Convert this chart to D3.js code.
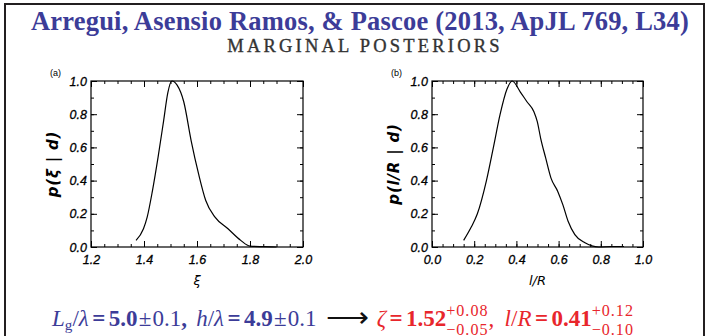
<!DOCTYPE html>
<html>
<head>
<meta charset="utf-8">
<script src="https://cdn.jsdelivr.net/npm/d3@7"></script>
<style>
  body { margin: 0; background: #fff; }
  svg { display: block; }
</style>
</head>
<body>
<div id="chart"></div>
<script>
// marginal posterior for xi (panel a)
var xiGrid = [1.37, 1.398, 1.412, 1.432, 1.453, 1.474, 1.49, 1.505, 1.525, 1.55, 1.578, 1.606, 1.633, 1.668, 1.717, 1.765, 1.80, 1.85, 1.90];
var xiPost = [0.04, 0.11, 0.18, 0.34, 0.54, 0.76, 0.93, 1.0, 0.975, 0.875, 0.64, 0.44, 0.28, 0.18, 0.11, 0.04, 0.005, 0.002, 0];

// marginal posterior for l/R (panel b)
var lrGrid = [0.15, 0.186, 0.215, 0.258, 0.291, 0.323, 0.355, 0.38, 0.418, 0.45, 0.483, 0.499, 0.515, 0.539, 0.564, 0.596, 0.62, 0.645, 0.677, 0.725, 0.79, 0.85, 0.91];
var lrPost = [0.04, 0.12, 0.20, 0.40, 0.60, 0.80, 0.95, 1.0, 0.935, 0.875, 0.815, 0.755, 0.655, 0.535, 0.415, 0.335, 0.255, 0.155, 0.075, 0.025, 0, 0.003, 0.003];

var xiTicks = [1.2, 1.4, 1.6, 1.8, 2.0];
var lrTicks = [0.0, 0.2, 0.4, 0.6, 0.8, 1.0];
var pTicks = [0.0, 0.2, 0.4, 0.6, 0.8, 1.0];

var W = 723, H = 336;
var blue = "#3c3c98", red = "#e8262c";

var svg = d3.select("#chart").append("svg")
    .attr("width", W)
    .attr("height", H);

// slide frame (open at the bottom)
svg.append("path")
  .attr("d", "M5,340V4H704V340")
  .attr("fill", "none")
  .attr("stroke", "#231f20")
  .attr("stroke-width", 2);

svg.append("text")
  .attr("x", 360).attr("y", 30)
  .attr("text-anchor", "middle")
  .attr("font-family", "Liberation Serif")
  .attr("font-weight", "bold")
  .attr("font-size", 26.5)
  .attr("letter-spacing", 0.2)
  .attr("fill", blue)
  .text("Arregui, Asensio Ramos, & Pascoe (2013, ApJL 769, L34)");

svg.append("text")
  .attr("x", 365).attr("y", 52)
  .attr("text-anchor", "middle")
  .attr("font-family", "Liberation Serif")
  .attr("font-size", 18.5)
  .attr("letter-spacing", 3.2)
  .attr("stroke", "#333")
  .attr("stroke-width", 0.35)
  .attr("fill", "#333")
  .text("MARGINAL POSTERIORS");

function drawPanel(opts) {
  var w = opts.width, h = 166;
  var g = svg.append("g").attr("transform", `translate(${opts.left},81)`);

  var x = d3.scaleLinear().domain(opts.xDomain).range([0, w]);
  var y = d3.scaleLinear().domain([0, 1]).range([h, 0]);

  var xMinor = d3.range(opts.xDomain[0], opts.xDomain[1] + 1e-9, 0.05);
  var yMinor = d3.range(0, 1.0001, 0.1);
  var fmt = d3.format(".1f");

  // major + minor ticks on all four sides, pointing inwards
  var axes = [
    [d3.axisBottom(x).tickValues(opts.xTicks).tickSize(-6).tickPadding(8).tickFormat(fmt), `translate(0,${h})`],
    [d3.axisBottom(x).tickValues(xMinor).tickSize(-3).tickFormat(""), `translate(0,${h})`],
    [d3.axisTop(x).tickValues(opts.xTicks).tickSize(-6).tickFormat(""), null],
    [d3.axisTop(x).tickValues(xMinor).tickSize(-3).tickFormat(""), null],
    [d3.axisLeft(y).tickValues(pTicks).tickSize(-6).tickPadding(4).tickFormat(fmt), null],
    [d3.axisLeft(y).tickValues(yMinor).tickSize(-3).tickFormat(""), null],
    [d3.axisRight(y).tickValues(pTicks).tickSize(-6).tickFormat(""), `translate(${w},0)`],
    [d3.axisRight(y).tickValues(yMinor).tickSize(-3).tickFormat(""), `translate(${w},0)`]
  ];
  axes.forEach(a => {
    var ax = g.append("g").call(a[0].tickSizeOuter(0));
    if (a[1]) ax.attr("transform", a[1]);
    ax.select(".domain").remove();
    ax.selectAll("line").attr("stroke", "#000");
    ax.selectAll("text")
      .attr("font-family", "Liberation Sans")
      .attr("font-style", "italic")
      .attr("font-size", 12.5)
      .attr("stroke", "#000")
      .attr("stroke-width", 0.3)
      .attr("fill", "#000");
  });

  g.append("rect")
    .attr("width", w).attr("height", h)
    .attr("fill", "none")
    .attr("stroke", "#000")
    .attr("stroke-width", 1.2);

  var line = d3.line()
    .x(d => x(d[0]))
    .y(d => y(d[1]))
    .curve(d3.curveMonotoneX);

  g.append("path")
    .datum(d3.zip(opts.grid, opts.post))
    .attr("d", line)
    .attr("fill", "none")
    .attr("stroke", "#000")
    .attr("stroke-width", 1.2);

  g.append("text")
    .attr("x", -41).attr("y", -5)
    .attr("font-family", "Liberation Sans")
    .attr("font-size", 9)
    .text(opts.tag);

  g.append("text")
    .attr("x", w / 2).attr("y", h + 38)
    .attr("text-anchor", "middle")
    .attr("font-family", "DejaVu Sans")
    .attr("font-style", "italic")
    .attr("font-size", 13)
    .text(opts.xLabel);

  g.append("text")
    .attr("transform", `translate(-33,${h / 2}) rotate(-90)`)
    .attr("text-anchor", "middle")
    .attr("font-family", "DejaVu Sans")
    .attr("font-style", "italic")
    .attr("font-weight", "bold")
    .attr("letter-spacing", 0.8)
    .attr("font-size", 15)
    .text(opts.yLabel);
}

drawPanel({ left: 91, width: 212, xDomain: [1.2, 2.0], xTicks: xiTicks,
  grid: xiGrid, post: xiPost, tag: "(a)", xLabel: "ξ", yLabel: "p(ξ | d)" });
drawPanel({ left: 432, width: 211, xDomain: [0.0, 1.0], xTicks: lrTicks,
  grid: lrGrid, post: lrPost, tag: "(b)", xLabel: "l/R", yLabel: "p(l/R | d)" });

// result line at the bottom, laid out piece by piece
var eq = svg.append("g").attr("font-family", "Liberation Serif");
var cx = 52, base = 326, fs = 23;

function put(t, o) {
  o = o || {};
  var el = eq.append("text")
    .attr("x", cx).attr("y", base + (o.dy || 0))
    .attr("font-size", fs * (o.scale || 1))
    .attr("font-style", o.it ? "italic" : "normal")
    .attr("font-weight", o.b ? "bold" : "normal")
    .attr("letter-spacing", o.ls || 0)
    .attr("fill", o.color)
    .text(t);
  var len = el.node().getComputedTextLength();
  if (!o.keep) cx += len;
  return len;
}
function gap(em) { cx += em * fs; }
function rel(value, color) {
  gap(0.15);
  put("=", { b: true, color: color });
  gap(0.15);
  put(value, { b: true, color: color });
}
function pm(value, color) {
  gap(0.05);
  put("±", { color: color });
  gap(0.05);
  put(value, { color: color });
}
function stack(up, down, color) {
  var a = put(up, { scale: 0.7, dy: -10, ls: 1, color: color, keep: true });
  var b = put(down, { scale: 0.7, dy: 8.5, ls: 1, color: color, keep: true });
  cx += Math.max(a, b);
}

put("L", { it: true, color: blue });
put("g", { scale: 0.66, dy: 4, color: blue });
put("/", { color: blue });
put("λ", { it: true, color: blue });
rel("5.0", blue);
pm("0.1", blue);
put(",", { b: true, color: blue });
gap(0.4);
put("h", { it: true, color: blue });
put("/", { color: blue });
put("λ", { it: true, color: blue });
rel("4.9", blue);
pm("0.1", blue);
gap(0.4);
put("⟶", { color: "#111", scale: 1.3, dy: 1 });
gap(0.35);
put("ζ", { it: true, color: red });
rel("1.52", red);
stack("+0.08", "−0.05", red);
put(",", { color: red });
gap(0.45);
put("l", { it: true, color: red });
put("/", { color: red });
put("R", { it: true, color: red });
rel("0.41", red);
stack("+0.12", "−0.10", red);
</script>
</body>
</html>
